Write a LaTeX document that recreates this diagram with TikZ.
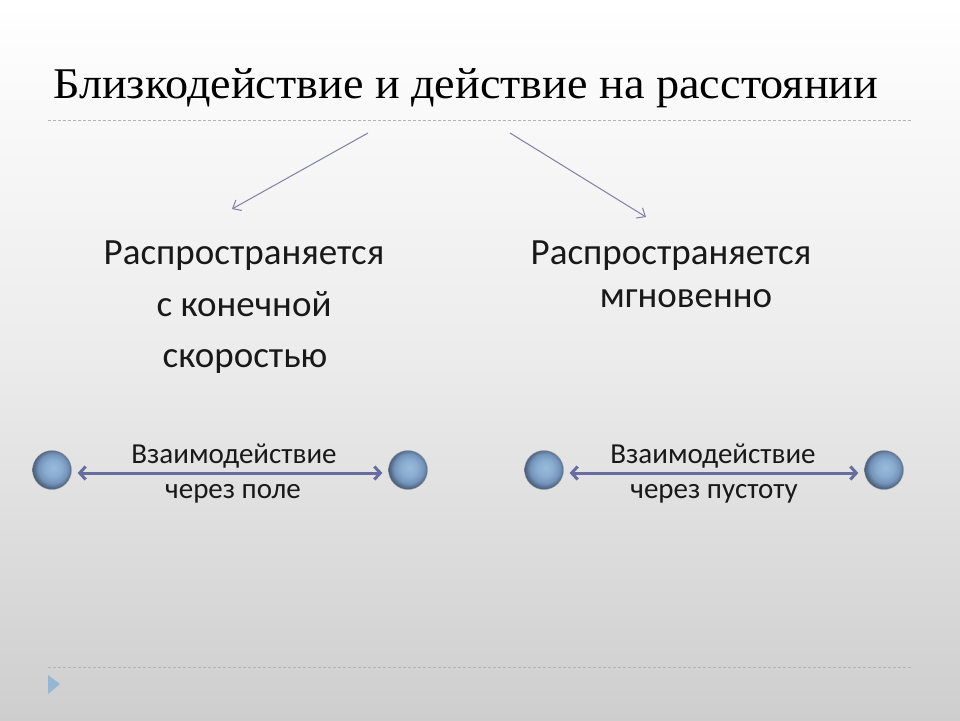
\documentclass[tikz,border=0pt]{standalone}
\usepackage{fontspec}
\setmainfont{Carlito}
\newfontfamily\titlefont{Liberation Serif}
\usetikzlibrary{arrows.meta}
\definecolor{arrc}{RGB}{104,109,160}
\definecolor{thinarr}{RGB}{128,128,160}
\definecolor{dashc}{RGB}{180,180,180}
\definecolor{triblue}{RGB}{150,182,214}
\definecolor{bgbot}{RGB}{206,206,206}
\definecolor{ballA}{RGB}{152,186,220}
\definecolor{ballB}{RGB}{138,172,208}
\definecolor{ballC}{RGB}{116,148,186}
\definecolor{ballD}{RGB}{78,98,128}
\pgfdeclareradialshading{softball}{\pgfpoint{2bp}{3bp}}{%
  color(0bp)=(ballA);
  color(11bp)=(ballB);
  color(19bp)=(ballC);
  color(25bp)=(ballD);
  color(50bp)=(ballD)}
\tikzset{
  ballnode/.style={circle, minimum size=39pt, inner sep=0pt, shading=softball, draw=black!40, line width=0.3pt},
  bigtext/.style={font=\fontsize{37}{44}\selectfont, text=black!90, inner sep=0pt, anchor=base},
  smalltext/.style={font=\fontsize{29}{34}\selectfont, text=black!90, inner sep=0pt, anchor=base},
  thinarrow/.style={draw=thinarr, line width=1pt, -{Straight Barb[length=7pt,width=12pt]}},
  dblarrow/.style={draw=arrc, line width=3pt, {Straight Barb[length=6pt,width=13pt]}-{Straight Barb[length=6pt,width=13pt]}, shorten <=6pt, shorten >=6pt},
  sepline/.style={draw=dashc, line width=0.9pt, dash pattern=on 3pt off 2pt}
}
\begin{document}
\begin{tikzpicture}[x=1pt,y=-1pt]
\shade[top color=white, bottom color=bgbot, middle color=white!60!bgbot] (0,0) rectangle (960,720);
\useasboundingbox (0,0) rectangle (960,720);
% title
\node[anchor=base west, inner sep=0pt] (title) at (53,98) {\resizebox{825pt}{30pt}{\titlefont Близкодействие и действие на расстоянии}};
\coordinate (l1a) at (48,120);
\coordinate (l1b) at (912,120);
\draw[sepline] (l1a) -- (l1b);
\coordinate (l2a) at (48,667);
\coordinate (l2b) at (912,667);
\draw[sepline] (l2a) -- (l2b);
% triangle
\fill[triblue] (48,675) -- (60,684) -- (48,694) -- cycle;
% top arrows
\coordinate (aLs) at (368,133);
\coordinate (aLe) at (232,209);
\coordinate (aRs) at (510,133);
\coordinate (aRe) at (646,217);
\draw[thinarrow] (aLs) -- (aLe);
\draw[thinarrow] (aRs) -- (aRe);
% text blocks
\node[bigtext] (t1) at (244,264) {Распространяется};
\node[bigtext] (t2) at (244,316) {с конечной};
\node[bigtext] (t3) at (245,367) {скоростью};
\node[bigtext] (r1) at (671,264) {Распространяется};
\node[bigtext] (r2) at (686,307) {мгновенно};
% balls
\node[ballnode] (b1) at (52,470) {};
\node[ballnode] (b2) at (408,470) {};
\node[ballnode] (b3) at (544,470) {};
\node[ballnode] (b4) at (884,470) {};
\draw[dblarrow] ([yshift=-3pt]b1.east) -- ([yshift=-3pt]b2.west);
\draw[dblarrow] ([yshift=-3pt]b3.east) -- ([yshift=-3pt]b4.west);
\node[smalltext] (s1) at (234,463) {Взаимодействие};
\node[smalltext] (s2) at (233,498) {через поле};
\node[smalltext] (s3) at (713,463) {Взаимодействие};
\node[smalltext] (s4) at (714,498) {через пустоту};
\end{tikzpicture}
\end{document}
